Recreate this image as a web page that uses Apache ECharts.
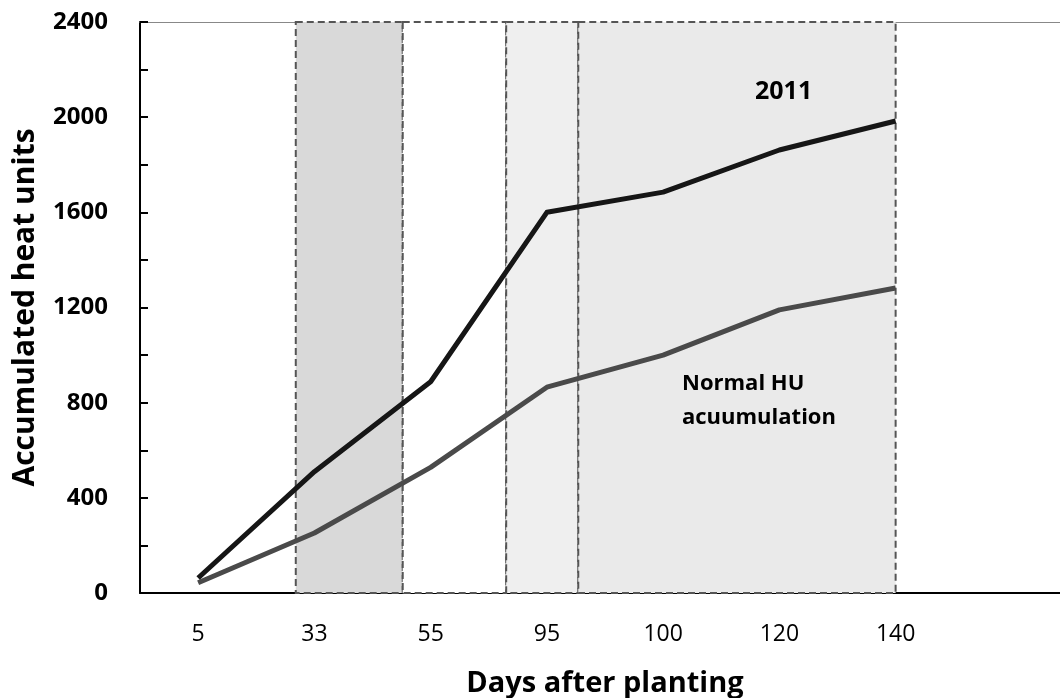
<!DOCTYPE html>
<html><head><meta charset="utf-8">
<script src="https://cdn.jsdelivr.net/npm/echarts@6/dist/echarts.min.js"></script>
<style>html,body{margin:0;padding:0;background:#fff}#c{width:1060px;height:698px}</style>
</head><body><div id="c"></div>
<script>
// Data
const days = ['5', '33', '55', '95', '100', '120', '140', ''];
const hu2011 = [63, 510, 888, 1600, 1685, 1862, 1984];
const huNormal = [43, 252, 528, 865, 1000, 1190, 1282];
// growth-stage box boundaries, in category-index units
const stageBounds = [0.84, 1.76, 2.65, 3.27, 6.0];
const yMax = 2400;

const stages = [];
for (let i = 0; i < stageBounds.length - 1; i++) stages.push([stageBounds[i], stageBounds[i + 1]]);
const fills = ['#d9d9d9', '#ffffff', '#efefef', '#eaeaea'];
const FONT = 'Open Sans';

const chart = echarts.init(document.getElementById('c'));
chart.setOption({
  animation: false,
  backgroundColor: '#fff',
  textStyle: { fontFamily: FONT },
  grid: { left: 140, top: 22, width: 930, height: 571, containLabel: false, outerBoundsMode: 'none' },
  xAxis: [{
    type: 'category', data: days, boundaryGap: true,
    axisLine: { lineStyle: { color: '#000', width: 2 } },
    axisTick: { show: false },
    axisLabel: { fontSize: 23, color: '#000', margin: 30, fontFamily: FONT },
    name: 'Days after planting', nameLocation: 'middle', nameGap: 76,
    nameTextStyle: { fontSize: 29, fontWeight: 'bold', color: '#000', fontFamily: FONT }
  }, {
    type: 'value', min: -0.5, max: 7.5, position: 'top',
    axisLine: { show: true, onZero: false, lineStyle: { color: '#888', width: 1 } },
    axisTick: { show: false }, axisLabel: { show: false }, splitLine: { show: false }
  }],
  yAxis: {
    type: 'value', min: 0, max: yMax, interval: 200,
    axisLine: { show: true, onZero: false, lineStyle: { color: '#000', width: 2 } },
    axisTick: { show: true, inside: true, length: 8, lineStyle: { color: '#000', width: 2 } },
    axisLabel: {
      fontSize: 24, fontWeight: 'bold', color: '#000', margin: 32, fontFamily: FONT,
      formatter: v => (v % 400 === 0 ? String(v) : '')
    },
    splitLine: { show: false },
    name: 'Accumulated heat units', nameLocation: 'middle', nameGap: 100, nameRotate: 90,
    nameTextStyle: { fontSize: 30, fontWeight: 'bold', color: '#000', fontFamily: FONT }
  },
  series: [{
    type: 'custom', xAxisIndex: 1, yAxisIndex: 0, z: 1, silent: true,
    data: stages,
    renderItem: (params, api) => {
      const p0 = api.coord([api.value(0), yMax]);
      const p1 = api.coord([api.value(1), 0]);
      return {
        type: 'rect',
        shape: { x: p0[0], y: p0[1], width: p1[0] - p0[0], height: p1[1] - p0[1] },
        style: { fill: fills[params.dataIndex], stroke: '#555', lineWidth: 2, lineDash: [7, 4] }
      };
    }
  }, {
    name: 'Normal', type: 'line', data: huNormal, symbol: 'none', z: 3,
    lineStyle: { color: '#4a4a4a', width: 5, join: 'round' }
  }, {
    name: '2011', type: 'line', data: hu2011, symbol: 'none', z: 4,
    lineStyle: { color: '#161616', width: 5, join: 'round' }
  }],
  graphic: [
    { type: 'text', left: 755, top: 79, z: 10,
      style: { text: '2011', fontSize: 25, fontWeight: 'bold', fill: '#000', fontFamily: FONT } },
    { type: 'text', left: 682, top: 367, z: 10,
      style: { text: 'Normal HU\nacuumulation', fontSize: 22, lineHeight: 34, fontWeight: 'bold', fill: '#000', fontFamily: FONT } }
  ]
});
</script></body></html>
